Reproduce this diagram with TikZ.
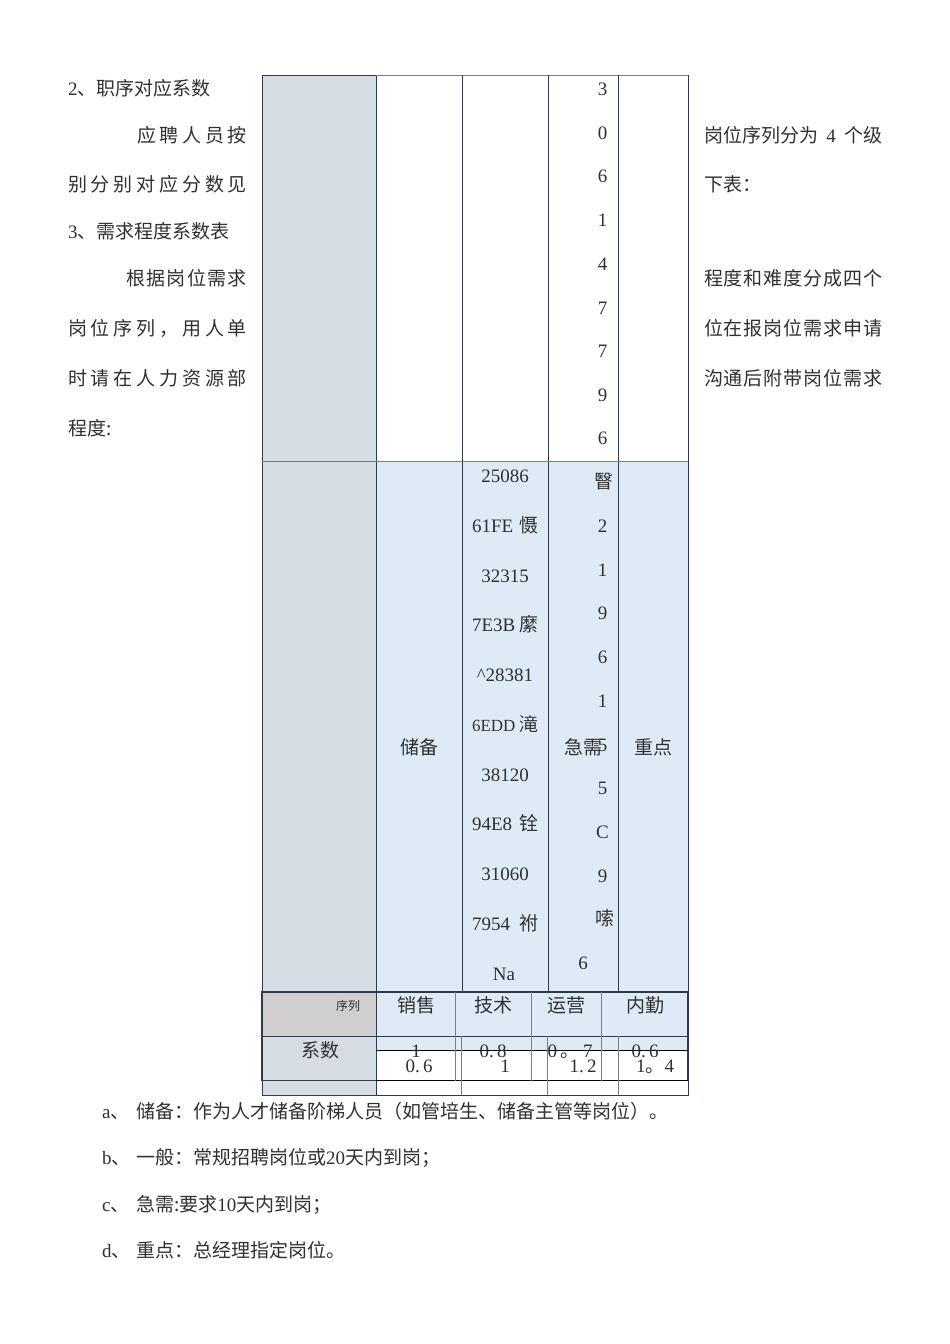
\documentclass[tikz,border=0pt]{standalone}
\usepackage{fontspec}
\setmainfont{Noto Sans CJK SC}
\newfontfamily\latfont{Liberation Serif}
\newcommand{\lat}[1]{{\latfont\fontsize{19}{19}\selectfont #1}}
\newcommand{\latn}[1]{{\latfont\fontsize{17}{17}\selectfont #1}}
\newcommand{\jl}[2]{\makebox[#1pt][s]{\spaceskip=0pt plus 1fil #2}}
\definecolor{inktext}{HTML}{303030}
\definecolor{gridline}{HTML}{303A48}
\definecolor{softline}{HTML}{7A7F86}
\definecolor{slatefill}{HTML}{D5DCE4}
\definecolor{bluefill}{HTML}{DEEAF6}
\definecolor{greyfill}{HTML}{D0CECE}
\tikzset{
  txt/.style={inner sep=0pt,outer sep=0pt,text=inktext,font=\fontsize{19}{19}\selectfont,text height=17pt,text depth=3pt},
  lefttxt/.style={txt,anchor=west},
  small/.style={txt,font=\fontsize{12}{12}\selectfont,text height=11pt,text depth=2pt},
  grid/.style={draw=gridline,line width=1pt},
  frame/.style={draw=gridline,line width=1.3pt},
  soft/.style={draw=softline,line width=1pt},
  blk/.style={draw=black,line width=1pt},
}
\begin{document}
\begin{tikzpicture}[x=1pt,y=-1pt]
\useasboundingbox[fill=white] (0,0) rectangle (950,1344);
% fills
\fill[slatefill] (262,75) rectangle (376,1095);
\fill[bluefill] (376,461) rectangle (688,1050.5);
\fill[greyfill] (262,992) rectangle (376,1036);
% upper table lines
\draw[grid] (262,75) rectangle (688,1095);
\draw[grid] (376,75) -- (376,1095);
\draw[soft] (376,75) -- (688,75);
\draw[grid] (462,75) -- (462,991);
\draw[grid] (548,75) -- (548,991);
\draw[grid] (618,75) -- (618,991);
\draw[soft] (262,461) -- (688,461);
% lower table lines
\draw[frame] (262,992) rectangle (688,1080.5);
\draw[grid] (262,1036) -- (688,1036);
\draw[blk] (376,1050.5) -- (688,1050.5);
\draw[blk] (376,1080.5) -- (688,1080.5);
\foreach \x in {455.5,531,601.5} \draw[soft] (\x,992) -- (\x,1080.5);
\foreach \x in {461.5,547.5,618} \draw[soft] (\x,1036) -- (\x,1095);
% left text
\node[lefttxt] (l1) at (68,88) {\lat{2}、职序对应系数};
\node[lefttxt] (l2) at (137,135) {\jl{110}{应 聘 人 员 按}};
\node[lefttxt] (l3) at (68,184) {\jl{179}{别 分 别 对 应 分 数 见}};
\node[lefttxt] (l4) at (68,231) {\lat{3}、需求程度系数表};
\node[lefttxt] (l5) at (126,278) {\jl{121}{根 据 岗 位 需 求}};
\node[lefttxt] (l6) at (68,328) {\jl{179}{岗 位 序 列 ， 用 人 单}};
\node[lefttxt] (l7) at (68,378) {\jl{179}{时 请 在 人 力 资 源 部}};
\node[lefttxt] (l8) at (68,428) {程度:};
% right text
\node[lefttxt] (r1) at (704,135) {\jl{178}{岗位序列分为 \lat{4} 个级}};
\node[lefttxt] (r2) at (704,184) {下表：};
\node[lefttxt] (r3) at (704,278) {\jl{178}{程 度 和 难 度 分 成 四 个}};
\node[lefttxt] (r4) at (704,328) {\jl{178}{位 在 报 岗 位 需 求 申 请}};
\node[lefttxt] (r5) at (704,378) {\jl{178}{沟 通 后 附 带 岗 位 需 求}};
% column 4 vertical digits
\foreach \t/\y [count=\i] in {3/88,0/132,6/175,1/219,4/263,7/307,7/350,9/394,6/437,2/525,1/569,9/612,6/656,1/700,5/744,5/787,C/831,9/875}
  \node[txt] (d\i) at (602.5,\y) {\lat{\t}};
\node[txt] (d19) at (604,481) {瞖};
\node[txt] (d20) at (605,918) {嗦};
\node[txt] (d21) at (583,962) {\lat{6}};
% column 3
\foreach \t/\y [count=\i] in {25086/475,32315/575,38120/774,31060/873}
  \node[txt] (n\i) at (505,\y) {\lat{\t}};
\node[txt] (m1) at (505,525) {\jl{66}{\lat{61FE} 慑}};
\node[txt] (m2) at (505,624) {\jl{66}{\lat{7E3B} 縻}};
\node[txt] (m3) at (505,674) {\lat{\^{}28381}};
\node[txt] (m4) at (505,724) {\jl{66}{\latn{6EDD} 滝}};
\node[txt] (m5) at (505,823) {\jl{66}{\lat{94E8} 铨}};
\node[txt] (m6) at (505,923) {\jl{66}{\lat{7954} 祔}};
\node[txt] (m7) at (504,973) {\lat{Na}};
% row labels
\node[txt] (c1) at (419,747) {储备};
\node[txt] (c2) at (583,747) {急需};
\node[txt] (c3) at (653,747) {重点};
% lower table
\node[small] (h0) at (348,1006) {序列};
\node[txt] (h1) at (416,1005) {销售};
\node[txt] (h2) at (493,1005) {技术};
\node[txt] (h3) at (566,1005) {运营};
\node[txt] (h4) at (645,1005) {内勤};
\node[txt] (h5) at (320,1050) {系数};
\node[txt] (v1) at (416,1050) {\lat{1}};
\node[txt] (v2) at (493,1050) {\jl{27}{\lat{0. 8}}};
\node[txt] (v3) at (570,1050) {\jl{45}{\lat{0}\hfil 。\hfil\lat{7}}};
\node[txt] (v4) at (645,1050) {\jl{27}{\lat{0. 6}}};
\node[txt] (w1) at (419,1065) {\jl{27}{\lat{0. 6}}};
\node[txt] (w2) at (505,1065) {\lat{1}};
\node[txt] (w3) at (583,1065) {\jl{27}{\lat{1. 2}}};
\node[txt] (w4) at (654,1065) {\jl{36}{\lat{1}\hfil 。\hfil\lat{4}}};
% bottom notes
\node[lefttxt] (a0) at (102,1111) {\lat{a}、};
\node[lefttxt] (a1) at (136,1111) {储备：作为人才储备阶梯人员（如管培生、储备主管等岗位）。};
\node[lefttxt] (b0) at (102,1157) {\lat{b}、};
\node[lefttxt] (b1) at (136,1157) {一般：常规招聘岗位或\lat{20}天内到岗；};
\node[lefttxt] (c0) at (102,1204) {\lat{c}、};
\node[lefttxt] (c4) at (136,1204) {急需:要求\lat{10}天内到岗；};
\node[lefttxt] (d0) at (102,1250) {\lat{d}、};
\node[lefttxt] (d4) at (136,1250) {重点：总经理指定岗位。};
\end{tikzpicture}
\end{document}
